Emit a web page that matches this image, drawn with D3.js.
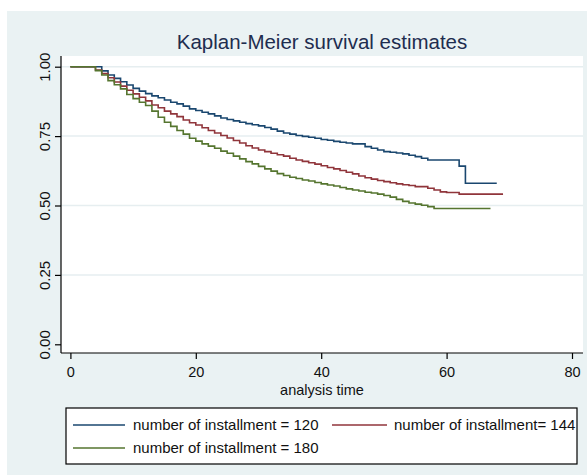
<!DOCTYPE html>
<html>
<head>
<meta charset="utf-8">
<script src="https://cdn.jsdelivr.net/npm/d3@7"></script>
<style>
  html, body { margin: 0; padding: 0; background: #ffffff; }
  svg { display: block; font-family: "Liberation Sans", Arial, sans-serif; }
</style>
</head>
<body>
<svg id="chart" width="587" height="475"></svg>
<script>
// Kaplan-Meier step estimates by number of installments (time in months)
const time120 = [0, 5, 6, 7, 8, 9, 10, 11, 12, 13, 14, 15, 16, 17, 18, 19, 20, 21, 22, 23, 24, 25, 26, 27, 28, 29, 30,
  31, 32, 33, 34, 35, 36, 37, 38, 39, 40, 41, 42, 43, 44, 45, 47, 48, 49, 50, 51, 52, 53, 54, 55, 56, 57, 62, 63, 68];
const surv120 = [1.000, 0.985, 0.970, 0.958, 0.946, 0.934, 0.922, 0.912, 0.903, 0.895, 0.888, 0.880, 0.872, 0.866, 0.858,
  0.848, 0.842, 0.836, 0.830, 0.823, 0.815, 0.810, 0.805, 0.800, 0.795, 0.791, 0.787, 0.781, 0.775, 0.768, 0.761,
  0.757, 0.752, 0.749, 0.746, 0.742, 0.738, 0.735, 0.731, 0.728, 0.725, 0.722, 0.712, 0.706, 0.700, 0.694, 0.692,
  0.689, 0.686, 0.681, 0.676, 0.670, 0.664, 0.642, 0.580, 0.580];

const time144 = [0, 4, 5, 6, 7, 8, 9, 10, 11, 12, 13, 14, 15, 16, 17, 18, 19, 20, 21, 22, 23, 24, 25, 26, 27, 28, 29, 30,
  31, 32, 33, 34, 35, 36, 37, 38, 39, 40, 41, 42, 43, 44, 45, 46, 47, 48, 49, 50, 51, 52, 53, 54, 55, 57, 58, 59, 60, 62, 69];
const surv144 = [1.000, 0.988, 0.975, 0.960, 0.945, 0.930, 0.915, 0.902, 0.890, 0.877, 0.862, 0.852, 0.840, 0.830, 0.820,
  0.808, 0.798, 0.790, 0.780, 0.770, 0.761, 0.752, 0.743, 0.734, 0.725, 0.715, 0.707, 0.700, 0.694, 0.688, 0.683,
  0.678, 0.670, 0.664, 0.659, 0.654, 0.649, 0.643, 0.637, 0.632, 0.626, 0.620, 0.614, 0.606, 0.600, 0.595, 0.590,
  0.586, 0.582, 0.578, 0.575, 0.572, 0.568, 0.562, 0.556, 0.549, 0.547, 0.541, 0.541];

const time180 = [0, 4, 5, 6, 7, 8, 9, 10, 11, 12, 13, 14, 15, 16, 17, 18, 19, 20, 21, 22, 23, 24, 25, 26, 27, 28, 29, 30,
  31, 32, 33, 34, 35, 36, 37, 38, 39, 40, 41, 42, 43, 44, 45, 46, 47, 48, 49, 50, 51, 52, 53, 54, 55, 56, 57, 58, 67];
const surv180 = [1.000, 0.986, 0.970, 0.950, 0.935, 0.920, 0.900, 0.885, 0.872, 0.860, 0.840, 0.818, 0.800, 0.785, 0.770,
  0.757, 0.742, 0.732, 0.722, 0.714, 0.706, 0.696, 0.688, 0.678, 0.668, 0.658, 0.650, 0.641, 0.632, 0.624, 0.615,
  0.608, 0.602, 0.597, 0.592, 0.588, 0.583, 0.578, 0.574, 0.570, 0.565, 0.560, 0.556, 0.552, 0.548, 0.545, 0.541,
  0.536, 0.530, 0.522, 0.515, 0.509, 0.505, 0.501, 0.496, 0.489, 0.489];

const groupLabels = ["number of installment = 120", "number of installment= 144", "number of installment = 180"];
const groupColors = ["#1a476f", "#90353b", "#55752f"];
const xTicks = [0, 20, 40, 60, 80];
const yTicks = [0, 0.25, 0.5, 0.75, 1];

const svg = d3.select("#chart");

// graph region background
svg.append("rect").attr("x", 7).attr("y", 11).attr("width", 580).attr("height", 464).attr("fill", "#eaf2f3");

// plot region
const plot = { left: 61, right: 583, top: 56, bottom: 353 };
svg.append("rect")
  .attr("x", plot.left).attr("y", plot.top)
  .attr("width", plot.right - plot.left).attr("height", plot.bottom - plot.top)
  .attr("fill", "#ffffff");

const x = d3.scaleLinear().domain([0, 80]).range([70.4, 572.0]);
const y = d3.scaleLinear().domain([0, 1]).range([344.3, 66.7]);

// horizontal grid lines
svg.append("g").selectAll("line").data(yTicks.filter(d => d > 0)).join("line")
  .attr("x1", plot.left).attr("x2", plot.right)
  .attr("y1", d => y(d)).attr("y2", d => y(d))
  .attr("stroke", "#e6eef0").attr("stroke-width", 1.5);

// survival curves
const series = [
  { t: time120, s: surv120 },
  { t: time144, s: surv144 },
  { t: time180, s: surv180 }
];
const line = d3.line().x(d => x(d[0])).y(d => y(d[1])).curve(d3.curveStepAfter);
series.forEach((ser, i) => {
  const pts = ser.t.map((t, j) => [t, ser.s[j]]);
  svg.append("path").datum(pts)
    .attr("d", line)
    .attr("fill", "none")
    .attr("stroke", groupColors[i])
    .attr("stroke-width", 1.6);
});

// y axis
const yAxis = svg.append("g").attr("transform", `translate(${plot.left},0)`)
  .call(d3.axisLeft(y).tickValues(yTicks).tickFormat(d3.format(".2f")).tickSize(6).tickSizeOuter(0));
yAxis.select(".domain").attr("d", `M0,${plot.top}V${plot.bottom}`).attr("stroke", "#000").attr("stroke-width", 1.2);
yAxis.selectAll(".tick line").attr("stroke", "#000").attr("stroke-width", 1.2);
yAxis.selectAll(".tick text")
  .attr("font-size", 15).attr("fill", "#111")
  .attr("transform", "translate(-11,0) rotate(-90)")
  .attr("x", 0).attr("y", 0).attr("dy", "0")
  .attr("text-anchor", "middle");

// x axis
const xAxis = svg.append("g").attr("transform", `translate(0,${plot.bottom})`)
  .call(d3.axisBottom(x).tickValues(xTicks).tickFormat(d3.format("d")).tickSize(6).tickSizeOuter(0));
xAxis.select(".domain").attr("d", `M${plot.left},0H${plot.right}`).attr("stroke", "#000").attr("stroke-width", 1.2);
xAxis.selectAll(".tick line").attr("stroke", "#000").attr("stroke-width", 1.2);
xAxis.selectAll(".tick text")
  .attr("font-size", 14.5).attr("fill", "#111")
  .attr("y", 24).attr("dy", "0");

// titles
const midX = (plot.left + plot.right) / 2;
svg.append("text").attr("x", midX).attr("y", 49)
  .attr("text-anchor", "middle").attr("font-size", 20.5).attr("fill", "#1e2d4f")
  .text("Kaplan-Meier survival estimates");
svg.append("text").attr("x", midX).attr("y", 395)
  .attr("text-anchor", "middle").attr("font-size", 14.5).attr("fill", "#111")
  .text("analysis time");

// legend
const legend = svg.append("g");
legend.append("rect").attr("x", 66).attr("y", 408).attr("width", 511).attr("height", 56)
  .attr("fill", "#ffffff").attr("stroke", "#000").attr("stroke-width", 1.2);
const legendPos = [
  { x1: 73, x2: 125, tx: 133, y: 425 },
  { x1: 332, x2: 387, tx: 394, y: 425 },
  { x1: 73, x2: 125, tx: 133, y: 448 }
];
legendPos.forEach((p, i) => {
  legend.append("line").attr("x1", p.x1).attr("x2", p.x2).attr("y1", p.y).attr("y2", p.y)
    .attr("stroke", groupColors[i]).attr("stroke-width", 1.6);
  legend.append("text").attr("x", p.tx).attr("y", p.y + 5)
    .attr("font-size", 15).attr("fill", "#111")
    .text(groupLabels[i]);
});
</script>
</body>
</html>
